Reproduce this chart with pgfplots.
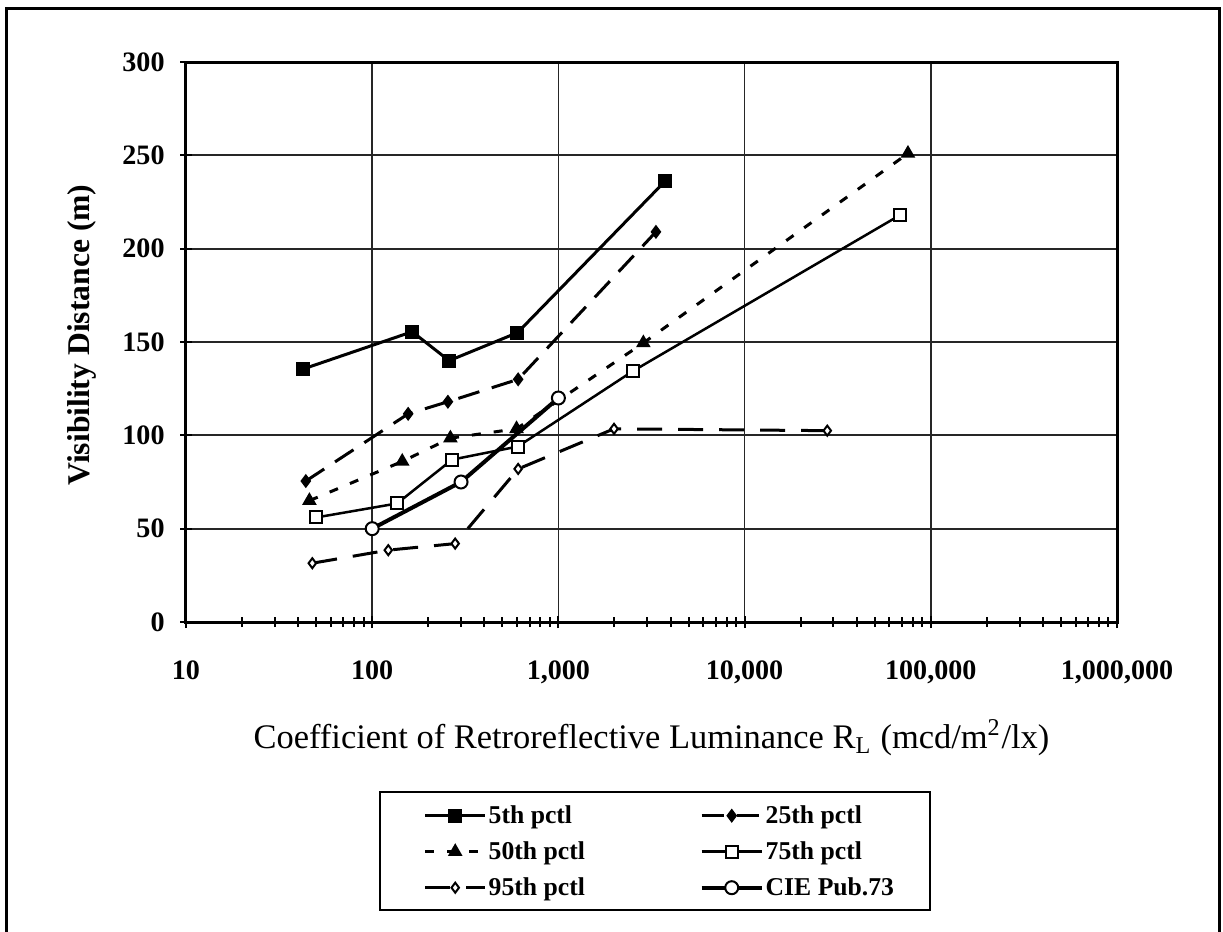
\documentclass[border=0pt]{standalone}
\usepackage{fontspec}
\setmainfont{Liberation Serif}
\usepackage{pgfplots}
\pgfplotsset{compat=1.18}

% values (x: R_L, y: visibility distance in m)
\pgfplotstableread{
x y
42.5 135.5
164 155.5
259 140
603 155
3730 236
}\pfive
\pgfplotstableread{
x y
44 75.5
156 111.5
255 118
608 130
3340 209
}\ptwentyfive
\pgfplotstableread{
x y
46 65
145 86
263 98.5
596 103.5
2860 149.5
75400 251
}\pfifty
\pgfplotstableread{
x y
50 56
136 63.5
269 87
605 94
2520 134.5
68400 218
}\pseventyfive
\pgfplotstableread{
x y
47.7 31.5
122 38.5
279 42
608 82
1990 103.5
27800 102.5
}\pninetyfive
\pgfplotstableread{
x y
100 50
300 75
1000 120
}\cie

\newcommand\entry[1]{\makebox[20.9mm][l]{#1}}

\begin{document}
\begin{tikzpicture}
\useasboundingbox (-18.6mm,-31mm) rectangle (103.7mm,62.2mm);
% page frame
\draw[line width=0.3mm] (-17.9mm,-32mm) -- (-17.9mm,61.3mm) -- (103.3mm,61.3mm) -- (103.3mm,-32mm);
% legend frame
\draw[line width=0.25mm] (19.4mm,-17.0mm) rectangle (74.4mm,-28.8mm);
\begin{axis}[
    at={(0,0)}, anchor=south west,
    scale only axis,
    width=93.1mm, height=56mm,
    xmode=log,
    xmin=10, xmax=1000000,
    ymin=0, ymax=300,
    xtick={10,100,1000,10000,100000,1000000},
    xticklabels={10,100,{1,000},{10,000},{100,000},{1,000,000}},
    minor xtick={20,30,40,50,60,70,80,90,
        200,300,400,500,600,700,800,900,
        2000,3000,4000,5000,6000,7000,8000,9000,
        20000,30000,40000,50000,60000,70000,80000,90000,
        200000,300000,400000,500000,600000,700000,800000,900000},
    ytick={0,50,100,150,200,250,300},
    /pgf/number format/assume math mode=true,
    tick pos=left,
    tick align=center,
    major tick length=1.2mm,
    minor tick length=1.0mm,
    tick style={black, line width=0.2mm},
    axis line style={line width=0.3mm},
    grid=major,
    major grid style={line width=0.17mm, black!85},
    xticklabel style={anchor=base, yshift=-5.1mm, font=\bfseries\fontsize{8}{9}\selectfont},
    yticklabel style={anchor=east, xshift=-0.3mm, font=\bfseries\fontsize{8}{9}\selectfont},
    xlabel={Coefficient of Retroreflective Luminance R\textsubscript{L} (mcd/m\textsuperscript{2}/lx)},
    xlabel style={at={(axis description cs:0.5,-0.207)}, anchor=center, font=\fontsize{9.8}{11}\selectfont},
    ylabel={Visibility Distance (m)},
    ylabel style={at={(axis description cs:-0.112,0.5125)}, anchor=center, font=\bfseries\fontsize{9}{10}\selectfont},
    legend columns=2,
    legend cell align=left,
    legend style={at={(0.2546,-0.3125)}, anchor=north west, draw=none, fill=none,
        font=\bfseries\fontsize{7.3}{8}\selectfont,
        inner xsep=0pt, inner ysep=0pt, row sep=0pt,
        nodes={inner xsep=0.2mm, inner ysep=0.4mm, text height=2.2mm, text depth=0.6mm}},
]
\addplot[black, solid, line width=0.3mm, mark=square*, mark size=0.6mm,
    mark options={solid, fill=black, line width=0.2mm}] table {\pfive};
\addlegendentry{\entry{5th pctl}}
\addplot[black, dash pattern=on 2.2mm off 1.3mm, line width=0.3mm, mark=diamond*, mark size=0.55mm,
    mark options={solid, fill=black, line width=0.2mm}] table {\ptwentyfive};
\addlegendentry{\entry{25th pctl}}
\addplot[black, dash pattern=on 0.9mm off 1.3mm, line width=0.3mm, mark=triangle*, mark size=0.65mm,
    mark options={solid, fill=black, line width=0.2mm}] table {\pfifty};
\addlegendentry{\entry{50th pctl}}
\addplot[black, solid, line width=0.25mm, mark=square*, mark size=0.6mm,
    mark options={solid, fill=white, line width=0.2mm}] table {\pseventyfive};
\addlegendentry{\entry{75th pctl}}
\addplot[black, dash pattern=on 2.5mm off 1.6mm, line width=0.3mm, mark=diamond*, mark size=0.5mm,
    mark options={solid, fill=white, line width=0.2mm}] table {\pninetyfive};
\addlegendentry{\entry{95th pctl}}
\addplot[black, solid, line width=0.4mm, mark=*, mark size=0.65mm,
    mark options={solid, fill=white, line width=0.2mm}] table {\cie};
\addlegendentry{\entry{CIE Pub.73}}
\end{axis}
\end{tikzpicture}
\end{document}
